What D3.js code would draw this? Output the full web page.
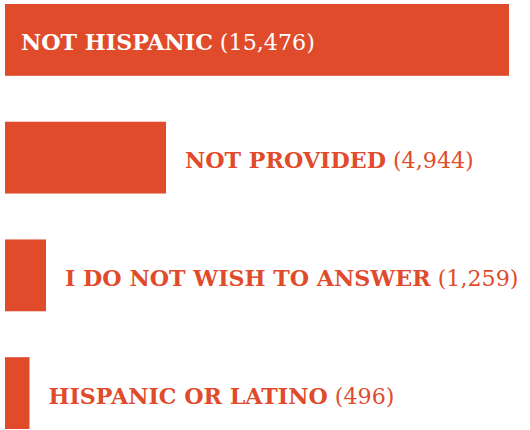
<!DOCTYPE html>
<html>
<head>
<meta charset="utf-8">
<script src="https://cdn.jsdelivr.net/npm/d3@7"></script>
<style>
  html, body { margin: 0; padding: 0; background: #fff; }
  svg { display: block; }
</style>
</head>
<body>
<div id="chart"></div>
<script>
// Data
const categories = ['NOT HISPANIC', 'NOT PROVIDED', 'I DO NOT WISH TO ANSWER', 'HISPANIC OR LATINO'];
const counts = [15476, 4944, 1259, 496];

const width = 530;
const height = 430;
const barColor = '#df4b2b';
const fontFamily = '"DejaVu Serif", serif';
const fontSize = 22.2;

const svg = d3.select('#chart')
  .append('svg')
  .attr('width', width)
  .attr('height', height);

const rows = categories.map((name, i) => ({ name, value: counts[i] }));

const x = d3.scaleLinear()
  .domain([0, d3.max(counts)])
  .range([0, 504]);

const y = d3.scaleBand()
  .domain(categories)
  .range([4, 429])
  .paddingInner(0.39)
  .paddingOuter(0);

const left = 5;
const minBar = 24.5;
const barW = d => Math.max(minBar, x(d.value));
const fmt = d3.format(',');

const g = svg.append('g').selectAll('g')
  .data(rows)
  .enter()
  .append('g');

g.append('rect')
  .attr('x', left)
  .attr('y', d => y(d.name))
  .attr('width', barW)
  .attr('height', y.bandwidth())
  .attr('fill', barColor);

// first label sits inside the (widest) bar, the rest follow the bar end
const label = g.append('text')
  .attr('x', (d, i) => i === 0 ? left + 16 : left + barW(d) + 19)
  .attr('y', d => y(d.name) + y.bandwidth() / 2 + 10.5)
  .style('font-family', fontFamily)
  .style('font-size', fontSize + 'px')
  .attr('fill', (d, i) => i === 0 ? '#fff' : barColor);

label.append('tspan')
  .style('font-weight', 700)
  .text(d => d.name);

label.append('tspan')
  .style('font-weight', 400)
  .text(d => ' (' + fmt(d.value) + ')');
</script>
</body>
</html>
